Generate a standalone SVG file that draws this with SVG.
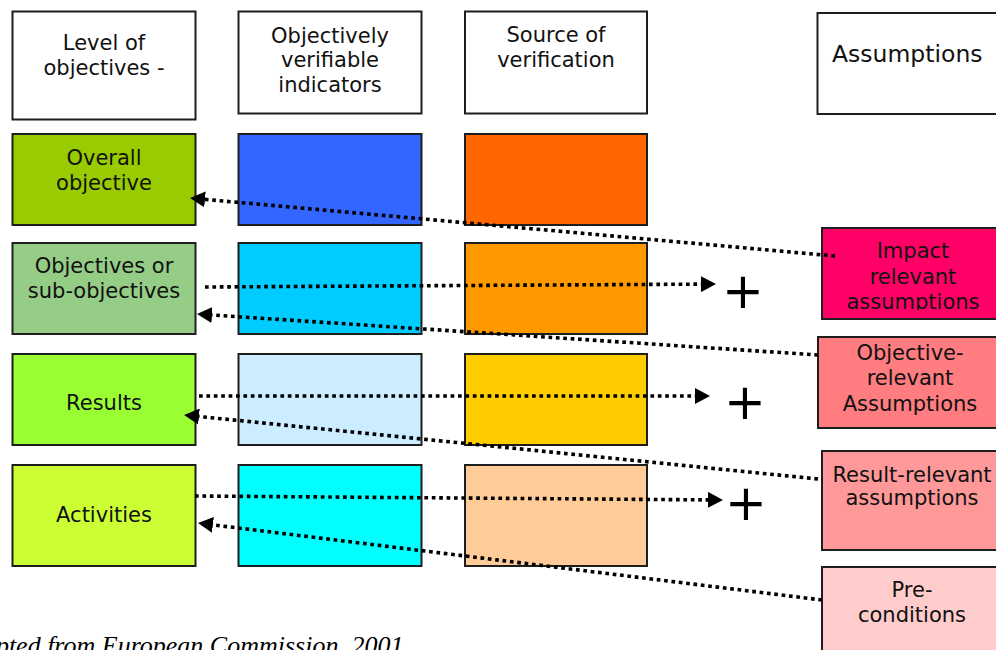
<svg xmlns="http://www.w3.org/2000/svg" width="996" height="650" viewBox="0 0 996 650">
<style>
  .box { stroke: #1e1e1e; stroke-width: 2; }
  .t { font-family: "DejaVu Sans", Verdana, sans-serif; font-size: 21px; fill: #111; text-anchor: middle; }
  .plus { font-family: "DejaVu Sans", sans-serif; font-size: 50px; fill: #000; text-anchor: middle; }
  .dot { fill: none; stroke: #000; stroke-width: 3.6; stroke-dasharray: 3.7 3.7; }
  .note { font-family: "Liberation Serif", "Times New Roman", serif; font-style: italic; font-size: 26px; fill: #000; }
</style>
<defs>
  <marker id="ah" markerUnits="userSpaceOnUse" markerWidth="16" markerHeight="16" refX="3" refY="8" orient="auto" viewBox="0 0 16 16">
    <path d="M0,0 L15,8 L0,16 z" fill="#000"/>
  </marker>
  <clipPath id="clipImpact"><rect x="822" y="228" width="190" height="82"/></clipPath>
</defs>
<rect width="996" height="650" fill="#fff"/>

<g id="hdr-level"><rect class="box" x="12.5" y="11.5" width="183" height="108" fill="#fff"/>
  <text class="t" x="104" y="50">Level of</text><text class="t" x="104" y="75">objectives -</text></g>
<g id="hdr-ovi"><rect class="box" x="238.5" y="11.5" width="183" height="102" fill="#fff"/>
  <text class="t" x="330" y="43">Objectively</text><text class="t" x="330" y="67">verifiable</text><text class="t" x="330" y="92">indicators</text></g>
<g id="hdr-sov"><rect class="box" x="465" y="11.5" width="182" height="102" fill="#fff"/>
  <text class="t" x="556" y="42">Source of</text><text class="t" x="556" y="67">verification</text></g>
<g id="hdr-assumptions"><rect class="box" x="817.5" y="13" width="190" height="101" fill="#fff"/>
  <text class="t" x="832" y="62" style="text-anchor:start;font-size:23.5px">Assumptions</text></g>

<g id="overall"><rect class="box" x="12.5" y="134" width="183" height="91" fill="#99CC00"/>
  <text class="t" x="104" y="165">Overall</text><text class="t" x="104" y="190">objective</text></g>
<g id="ovi-overall"><rect class="box" x="238.5" y="134" width="183" height="91" fill="#3366FF"/></g>
<g id="sov-overall"><rect class="box" x="465" y="134" width="182" height="91" fill="#FF6600"/></g>

<g id="objectives"><rect class="box" x="12.5" y="243" width="183" height="91" fill="#95CD87"/>
  <text class="t" x="104" y="273">Objectives or</text><text class="t" x="104" y="298">sub-objectives</text></g>
<g id="ovi-objectives"><rect class="box" x="238.5" y="243" width="183" height="91" fill="#00CCFF"/></g>
<g id="sov-objectives"><rect class="box" x="465" y="243" width="182" height="91" fill="#FF9900"/></g>

<g id="results"><rect class="box" x="12.5" y="354" width="183" height="91" fill="#99FF33"/>
  <text class="t" x="104" y="410">Results</text></g>
<g id="ovi-results"><rect class="box" x="238.5" y="354" width="183" height="91" fill="#CCECFF"/></g>
<g id="sov-results"><rect class="box" x="465" y="354" width="182" height="91" fill="#FFCC00"/></g>

<g id="activities"><rect class="box" x="12.5" y="465" width="183" height="101" fill="#CCFF33"/>
  <text class="t" x="104" y="522">Activities</text></g>
<g id="ovi-activities"><rect class="box" x="238.5" y="465" width="183" height="101" fill="#00FFFF"/></g>
<g id="sov-activities"><rect class="box" x="465" y="465" width="182" height="101" fill="#FFCC99"/></g>

<g id="impact"><rect class="box" x="822" y="228" width="190" height="91" fill="#FF0066"/>
  <g clip-path="url(#clipImpact)"><text class="t" x="913" y="258">Impact</text><text class="t" x="913" y="284">relevant</text><text class="t" x="913" y="309">assumptions</text></g></g>
<g id="objective-relevant"><rect class="box" x="818" y="337" width="190" height="91" fill="#FF7C80"/>
  <text class="t" x="910" y="360">Objective-</text><text class="t" x="910" y="385">relevant</text><text class="t" x="910" y="411">Assumptions</text></g>
<g id="result-relevant"><rect class="box" x="822" y="451" width="190" height="99" fill="#FF9999"/>
  <text class="t" x="912" y="482">Result-relevant</text><text class="t" x="912" y="505">assumptions</text></g>
<g id="pre-conditions"><rect class="box" x="822" y="567" width="190" height="100" fill="#FFCCCC"/>
  <text class="t" x="912" y="597">Pre-</text><text class="t" x="912" y="622">conditions</text></g>

<g id="plus-signs">
  <text class="plus" x="743" y="308">+</text>
  <text class="plus" x="745" y="419">+</text>
  <text class="plus" x="746" y="520">+</text>
</g>

<g id="connectors">
  <line class="dot" x1="835" y1="256" x2="202" y2="199.1" marker-end="url(#ah)"/>
  <line class="dot" x1="205" y1="287" x2="704" y2="284.1" marker-end="url(#ah)"/>
  <line class="dot" x1="818" y1="355" x2="209" y2="314.8" marker-end="url(#ah)"/>
  <line class="dot" x1="199" y1="396" x2="698" y2="396" marker-end="url(#ah)"/>
  <line class="dot" x1="818" y1="479" x2="196" y2="416.2" marker-end="url(#ah)"/>
  <line class="dot" x1="195" y1="496" x2="711" y2="499.9" marker-end="url(#ah)"/>
  <line class="dot" x1="822" y1="600" x2="209.9" y2="524.5" marker-end="url(#ah)"/>
</g>

<text class="note" x="-46" y="654">Adapted from European Commission, 2001</text>
</svg>
